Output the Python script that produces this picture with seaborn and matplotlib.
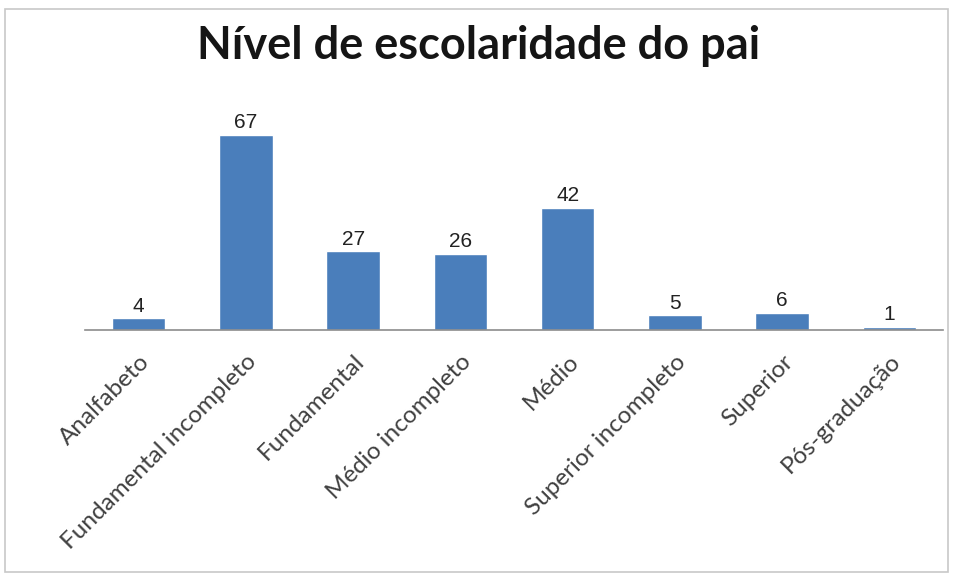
import matplotlib
matplotlib.use("Agg")
import matplotlib.pyplot as plt
import seaborn as sns
import pandas as pd

categorias = ["Analfabeto", "Fundamental incompleto", "Fundamental", "Médio incompleto",
              "Médio", "Superior incompleto", "Superior", "Pós-graduação"]
valores = [4, 67, 27, 26, 42, 5, 6, 1]

sns.set_theme(style="white")
plt.rcParams["font.family"] = ["Lato", "DejaVu Sans"]

df = pd.DataFrame({"categoria": categorias, "valor": valores})

fig = plt.figure(figsize=(9.58, 5.77), dpi=100)
ax = fig.add_axes([85 / 958, 1 - 330 / 577, (943 - 85) / 958, (330 - 97) / 577])

sns.barplot(data=df, x="categoria", y="valor", color="#4A7EBB", saturation=1,
            width=0.5, ax=ax)

ax.set_ylim(0, 80)
ax.set_xlim(-0.5, len(categorias) - 0.5)
ax.set_xlabel("")
ax.set_ylabel("")
ax.set_yticks([])
for s in ["top", "right", "left"]:
    ax.spines[s].set_visible(False)
ax.spines["bottom"].set_color("#8C8C8C")
ax.spines["bottom"].set_linewidth(1.2)
ax.tick_params(axis="x", length=0, pad=15)
plt.setp(ax.get_xticklabels(), rotation=45, ha="right", rotation_mode="anchor",
         fontsize=17.5, color="#404040")

for c in ax.containers:
    ax.bar_label(c, labels=[str(v) for v in valores], padding=2, fontsize=15,
                 color="#222222", family="Liberation Sans")

fig.text(0.5, 1 - 46 / 577, "Nível de escolaridade do pai", ha="center", va="center",
         fontsize=32.5, fontweight="bold", color="#151515")

# chart frame
fig.patches.append(plt.Rectangle((5 / 958, 5 / 577), 943 / 958, 563 / 577,
                                 transform=fig.transFigure, fill=False,
                                 edgecolor="#C8C8C8", linewidth=1.2))

fig.savefig("out.png", dpi=100)
